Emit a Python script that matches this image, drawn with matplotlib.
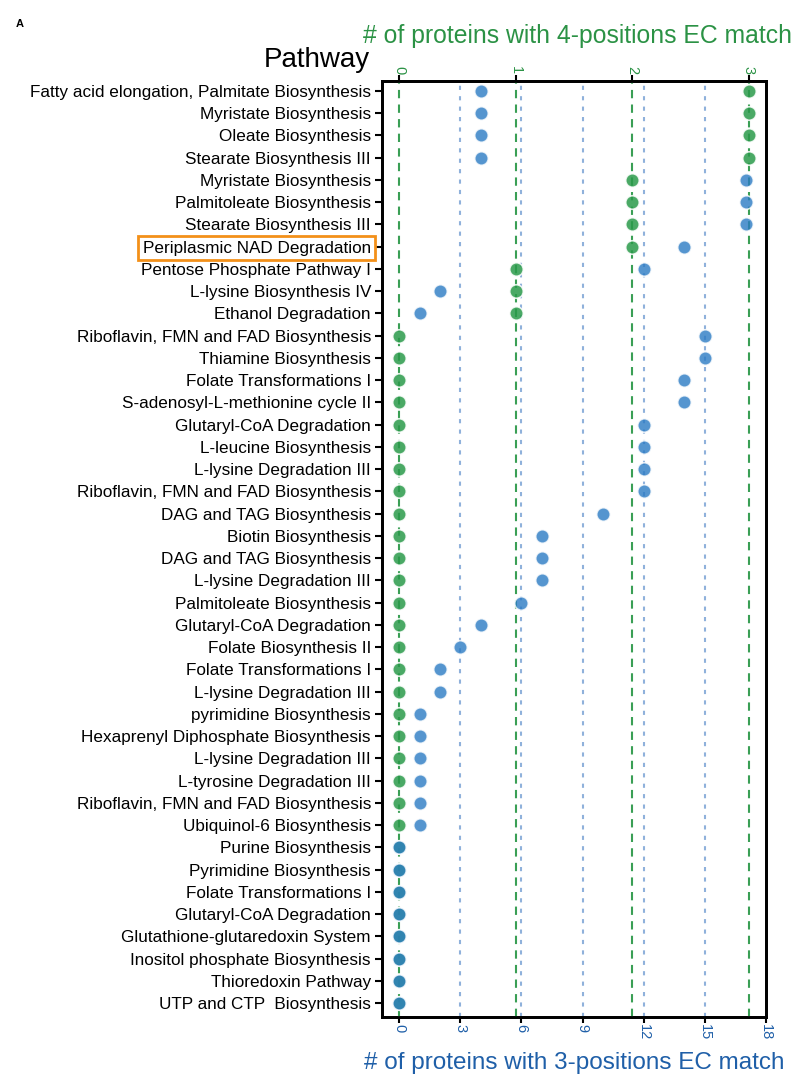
import matplotlib
matplotlib.use("Agg")
import matplotlib.pyplot as plt

plt.rcParams['font.family'] = ['Liberation Sans', 'DejaVu Sans']

pathways = [
    "Fatty acid elongation, Palmitate Biosynthesis",
    "Myristate Biosynthesis",
    "Oleate Biosynthesis",
    "Stearate Biosynthesis III",
    "Myristate Biosynthesis",
    "Palmitoleate Biosynthesis",
    "Stearate Biosynthesis III",
    "Periplasmic NAD Degradation",
    "Pentose Phosphate Pathway I",
    "L-lysine Biosynthesis IV",
    "Ethanol Degradation",
    "Riboflavin, FMN and FAD Biosynthesis",
    "Thiamine Biosynthesis",
    "Folate Transformations I",
    "S-adenosyl-L-methionine cycle II",
    "Glutaryl-CoA Degradation",
    "L-leucine Biosynthesis",
    "L-lysine Degradation III",
    "Riboflavin, FMN and FAD Biosynthesis",
    "DAG and TAG Biosynthesis",
    "Biotin Biosynthesis",
    "DAG and TAG Biosynthesis",
    "L-lysine Degradation III",
    "Palmitoleate Biosynthesis",
    "Glutaryl-CoA Degradation",
    "Folate Biosynthesis II",
    "Folate Transformations I",
    "L-lysine Degradation III",
    "pyrimidine Biosynthesis",
    "Hexaprenyl Diphosphate Biosynthesis",
    "L-lysine Degradation III",
    "L-tyrosine Degradation III",
    "Riboflavin, FMN and FAD Biosynthesis",
    "Ubiquinol-6 Biosynthesis",
    "Purine Biosynthesis",
    "Pyrimidine Biosynthesis",
    "Folate Transformations I",
    "Glutaryl-CoA Degradation",
    "Glutathione-glutaredoxin System",
    "Inositol phosphate Biosynthesis",
    "Thioredoxin Pathway",
    "UTP and CTP  Biosynthesis",
]

ec4_counts = [3, 3, 3, 3, 2, 2, 2, 2, 1, 1, 1,
              0, 0, 0, 0, 0, 0, 0, 0, 0, 0, 0, 0, 0, 0, 0, 0, 0,
              0, 0, 0, 0, 0, 0, 0, 0, 0, 0, 0, 0, 0, 0]
ec3_counts = [4, 4, 4, 4, 17, 17, 17, 14, 12, 2, 1,
              15, 15, 14, 14, 12, 12, 12, 12, 10, 7, 7, 7, 6, 4, 3, 2, 2,
              1, 1, 1, 1, 1, 1, 0, 0, 0, 0, 0, 0, 0, 0]

ec3_ticks = [0, 3, 6, 9, 12, 15, 18]
ec4_ticks = [0, 1, 2, 3]
highlight_row = 7

blue = '#2b7bc4'
blue_text = '#1f5fa8'
blue_grid = '#8fb1db'
green = '#2a9a4a'
green_text = '#2b9245'
green_grid = '#3a9f55'

fig = plt.figure(figsize=(8, 10.88), dpi=100)
ax = fig.add_axes([382/800, 1-1017/1088, (766-382)/800, (1017-81)/1088])
ax2 = ax.twiny()

rows = list(range(len(pathways)))

ax.set_xlim(-0.84, 18.0)
ax2.set_xlim(-0.146, 3.15)
ax.set_ylim(41.63, -0.45)

# grids
for t in ec3_ticks[1:-1]:
    ax.axvline(t, color=blue_grid, ls=(0, (2, 3)), lw=1.5, zorder=0)
for t in ec4_ticks:
    ax2.axvline(t, color=green_grid, ls=(0, (4, 3)), lw=1.5, zorder=0)

# green points (top axis)
ax2.scatter(ec4_counts, rows, s=95, color=green, alpha=0.85,
            edgecolor='white', linewidth=1.2, zorder=3)
# blue points (bottom axis), drawn on top
ax2.scatter(ec3_counts, rows, s=95, color=blue, alpha=0.8,
            edgecolor='white', linewidth=1.2, zorder=4,
            transform=ax.transData)

ax.set_yticks(rows)
ax.set_yticklabels(pathways, fontsize=12.3)
ax.tick_params(axis='y', length=5, width=1.5, pad=3)

ax.set_xticks(ec3_ticks)
ax.set_xticklabels([str(t) for t in ec3_ticks], rotation=-90, fontsize=10.5,
                   color=blue_text)
ax.tick_params(axis='x', length=4, width=1.5, pad=1)

ax2.set_xticks(ec4_ticks)
ax2.set_xticklabels([str(t) for t in ec4_ticks], rotation=-90, fontsize=10.5,
                    color=green_text)
ax2.tick_params(axis='x', length=4, width=1.5, pad=1)

for a in (ax, ax2):
    for sp in a.spines.values():
        sp.set_linewidth(2)
        sp.set_color('black')

ax.set_xlabel("# of proteins with 3-positions EC match", fontsize=17.5,
              color=blue_text)
ax.xaxis.set_label_coords(0.5, -0.037)
ax2.set_xlabel("# of proteins with 4-positions EC match", fontsize=17.8,
               color=green_text)
ax2.xaxis.set_label_coords(0.51, 1.041)

lbl = ax.get_yticklabels()[highlight_row]
lbl.set_bbox(dict(facecolor='none', edgecolor='#f39019', linewidth=2,
                  boxstyle='square,pad=0.25'))

fig.text(370/800, 1-67/1088, "Pathway", ha='right', va='baseline', fontsize=20)
fig.text(16/800, 1-27/1088, "A", ha='left', va='baseline', fontsize=8,
         fontweight='bold')

fig.savefig("out.png", dpi=100)
